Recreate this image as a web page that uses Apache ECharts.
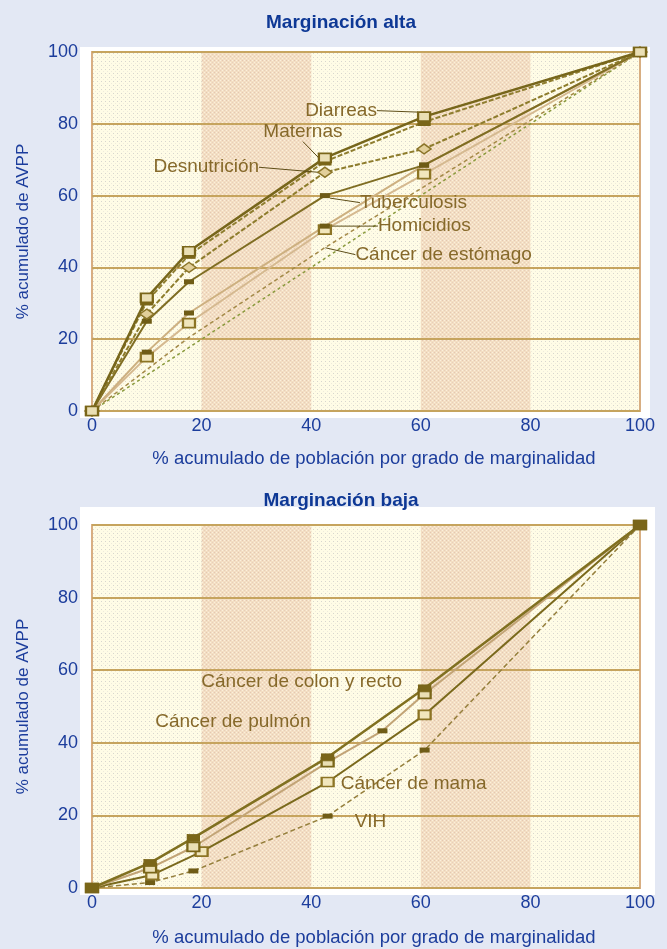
<!DOCTYPE html>
<html><head><meta charset="utf-8">
<script src="https://cdn.jsdelivr.net/npm/echarts@6/dist/echarts.min.js"></script>
<style>html,body{margin:0;padding:0;background:#e3e8f4;}#c{width:667px;height:949px;}</style>
</head><body><div id="c"></div>
<script>
// ---------- data ----------
const xTicks = [0, 20, 40, 60, 80, 100];
const bandsX = [[20, 40], [60, 80]];
// Marginación alta
const xAlta = [0, 10, 17.7, 42.5, 60.6, 100];
const diarreas = [0, 31.5, 44.5, 70.5, 82, 100];
const maternas = [0, 30.5, 43.5, 69.5, 80.5, 100];
const desnutricion = [0, 27, 40, 66.5, 73, 100];
const tuberculosis = [0, 25, 36, 60, 68.5, 100];
const homicidios = [0, 16.4, 27.3, 51.5, 68.5, 100];
const otraAlta = [0, 15, 24.5, 50.5, 66, 100];
const estomago = [0, 11.5, 20.5, 45.5, 62.5, 100];
// Marginación baja
const xBaja = [0, 10.6, 18.5, 43, 60.7, 100];
const xMama = [0, 11, 20, 43, 60.7, 100];
const xPulmon = [0, 10.6, 18.5, 43, 53, 60.7, 100];
const colon = [0, 6.9, 13.8, 36, 55, 100];
const pulmon = [0, 5.5, 11.3, 34.7, 43.3, 53.5, 100];
const mama = [0, 3.6, 10, 29.2, 47.7, 100];
const vih = [0, 1.5, 4.7, 19.8, 38, 100];
// equality line
const xEq = [0, 100];
const yEq = [0, 100];

// ---------- styles ----------
const FONT = "'Liberation Sans', Arial, sans-serif";
const BLUE = '#1c3d9c';
const LABEL = '#86692a';

function pattern(base, dots, step) {
  const c = document.createElement('canvas');
  c.width = step; c.height = step;
  const g = c.getContext('2d');
  g.fillStyle = base; g.fillRect(0, 0, step, step);
  dots.forEach(d => { g.fillStyle = d[2]; g.fillRect(d[0], d[1], 1, 1); });
  return { image: c, repeat: 'repeat' };
}
const lightPat = pattern('#fffce6', [[1, 1, '#d8d6ce'], [3, 3, '#eeebdc']], 4);
const bandPat = pattern('#f3dec3', [[0, 0, '#fbf0dc'], [2, 2, '#fbf0dc'], [2, 0, '#e4c7b2'], [0, 2, '#e8cfb9']], 4);

const chart = echarts.init(document.getElementById('c'), null, { renderer: 'canvas' });

function grid(top, height) {
  return { left: 92, top: top, width: 548, height: height, show: true,
    backgroundColor: lightPat, borderColor: '#d8ae82', borderWidth: 2 };
}
function xAx(gi, gap) {
  return { type: 'value', gridIndex: gi, min: 0, max: 100, interval: 20,
    axisLine: { show: false }, axisTick: { show: false }, splitLine: { show: false },
    axisLabel: { color: BLUE, fontSize: 18, fontFamily: FONT, margin: 6,
      formatter: v => xTicks.includes(v) ? String(v) : '' },
    name: '% acumulado de población por grado de marginalidad', nameLocation: 'middle', nameGap: gap,
    nameTextStyle: { color: BLUE, fontSize: 18.5, fontFamily: FONT, padding: [0, 0, 0, 16] } };
}
function yAx(gi) {
  return { type: 'value', gridIndex: gi, min: 0, max: 100, interval: 20, z: 2,
    axisLine: { show: false }, axisTick: { show: false },
    splitLine: { show: true, lineStyle: { color: '#c6a45e', width: 2 } },
    axisLabel: { color: BLUE, fontSize: 18, fontFamily: FONT, margin: 14 },
    name: '% acumulado de AVPP', nameLocation: 'middle', nameGap: 60, nameRotate: 90,
    nameTextStyle: { color: BLUE, fontSize: 17, fontFamily: FONT } };
}

function pts(xs, ys) { return xs.map((x, i) => [x, ys[i]]); }

const MK = {
  rect: { symbol: 'rect', symbolSize: [12, 9], itemStyle: { color: '#eadfb4', borderColor: '#7a6619', borderWidth: 2 } },
  rectDark: { symbol: 'rect', symbolSize: [12, 7], itemStyle: { color: '#7a6619', borderColor: '#7a6619', borderWidth: 1 } },
  star: { symbol: 'diamond', symbolSize: [14, 10], itemStyle: { color: '#e2cf9a', borderColor: '#8a7428', borderWidth: 1.5 } },
  small: { symbol: 'rect', symbolSize: [10, 5], itemStyle: { color: '#6f5c16', borderWidth: 0 } },
  open: { symbol: 'rect', symbolSize: [12, 9], itemStyle: { color: '#f1e6bc', borderColor: '#8c7424', borderWidth: 2 } },
  hidden: { symbol: 'circle', symbolSize: 1, itemStyle: { color: 'rgba(0,0,0,0)', borderWidth: 0 } }
};

function series(name, gi, xs, ys, mk, line, lab, smallIdx) {
  const data = pts(xs, ys).map((p, i) => {
    if (lab && i === lab.idx) {
      return { value: p, label: { show: true, formatter: name, position: lab.pos, distance: 4,
        color: LABEL, fontSize: 19, fontFamily: FONT } };
    }
    if (smallIdx === i) {
      return { value: p, symbol: 'rect', symbolSize: [10, 5], itemStyle: { color: '#6f5c16', borderWidth: 0 } };
    }
    return p;
  });
  const s = Object.assign({ type: 'line', name: name, xAxisIndex: gi, yAxisIndex: gi, z: 3,
    data: data, lineStyle: line, showSymbol: true, animation: false, smooth: false,
    label: { show: false }, emphasis: { disabled: true } }, mk);
  if (lab) {
    s.labelLayout = { dx: lab.dx, dy: lab.dy, hideOverlap: false };
    s.labelLine = { show: !!lab.line, lineStyle: { color: '#5e4e18', width: 1 } };
  }
  return s;
}

function bandSeries(gi) {
  return { type: 'line', xAxisIndex: gi, yAxisIndex: gi, z: 1, data: [], silent: true,
    markArea: { silent: true, itemStyle: { color: bandPat },
      data: bandsX.map(b => [{ xAxis: b[0] }, { xAxis: b[1] }]) } };
}

const allSeries = [
  bandSeries(0), bandSeries(1),
  series('Igualdad', 0, xEq, yEq, MK.hidden, { color: '#8a9a3c', width: 1.5, type: [3, 3] }),
  series('Cáncer de estómago', 0, xAlta, estomago, MK.hidden, { color: '#a48a48', width: 1.5, type: [4, 3] },
    { idx: 3, pos: 'right', dx: 26, dy: 7, line: true }),
  series('', 0, xAlta, otraAlta, MK.open, { color: '#d5b990', width: 2 }),
  series('Homicidios', 0, xAlta, homicidios, MK.small, { color: '#cdb080', width: 2 },
    { idx: 3, pos: 'right', dx: 44, dy: 0, line: true }),
  series('Tuberculosis', 0, xAlta, tuberculosis, MK.small, { color: '#7f6d22', width: 2 },
    { idx: 3, pos: 'right', dx: 26, dy: 7, line: true }),
  series('Desnutrición', 0, xAlta, desnutricion, MK.star, { color: '#8d7c2c', width: 2, type: [5, 2] },
    { idx: 3, pos: 'left', dx: -54, dy: -5, line: true }),
  series('Maternas', 0, xAlta, maternas, MK.rectDark, { color: '#8f7e30', width: 2, type: [5, 2] },
    { idx: 3, pos: 'top', dx: -22, dy: -12, line: true }),
  series('Diarreas', 0, xAlta, diarreas, MK.rect, { color: '#77661b', width: 2.5 },
    { idx: 4, pos: 'left', dx: -36, dy: -6, line: true }),

  series('VIH', 1, xBaja, vih, MK.small, { color: '#957f3c', width: 1.5, type: [5, 3] },
    { idx: 3, pos: 'right', dx: 18, dy: 6, line: false }),
  series('Cáncer de mama', 1, xMama, mama, MK.open, { color: '#7a691c', width: 2 },
    { idx: 3, pos: 'right', dx: 2, dy: 2, line: false }),
  series('Cáncer de pulmón', 1, xPulmon, pulmon, MK.rect, { color: '#c2a476', width: 2 },
    { idx: 3, pos: 'left', dx: -6, dy: -40, line: false }, 4),
  series('Cáncer de colon y recto', 1, xBaja, colon, MK.rectDark, { color: '#807020', width: 2.5 },
    { idx: 4, pos: 'left', dx: -12, dy: -7, line: false })
];

chart.setOption({
  backgroundColor: '#e3e8f4',
  animation: false,
  graphic: [
    { type: 'rect', shape: { x: 80, y: 47, width: 570, height: 371 }, style: { fill: '#ffffff' }, z: -10 },
    { type: 'rect', shape: { x: 80, y: 507, width: 575, height: 388 }, style: { fill: '#ffffff' }, z: -10 }
  ],
  title: [
    { text: 'Marginación alta', left: 336, top: 8, textAlign: 'center',
      textStyle: { color: '#0e3895', fontSize: 19, fontWeight: 'bold', fontFamily: FONT } },
    { text: 'Marginación baja', left: 336, top: 486, textAlign: 'center',
      textStyle: { color: '#0e3895', fontSize: 19, fontWeight: 'bold', fontFamily: FONT } }
  ],
  grid: [grid(52, 359), grid(525, 363)],
  xAxis: [xAx(0, 38), xAx(1, 40)],
  yAxis: [yAx(0), yAx(1)],
  series: allSeries
});
</script></body></html>
